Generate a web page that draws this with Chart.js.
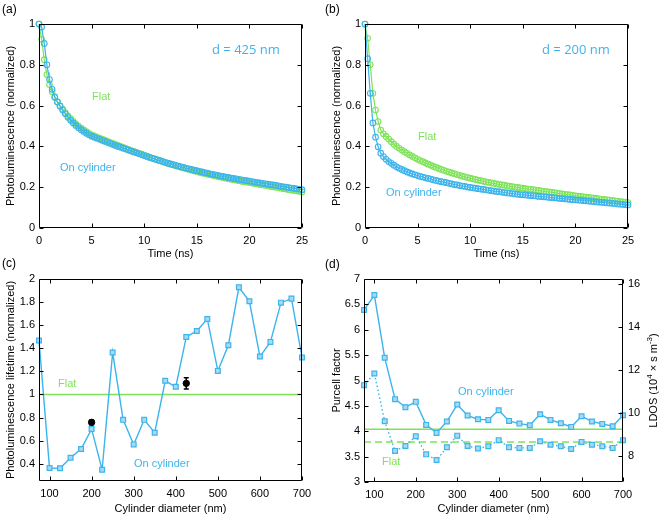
<!DOCTYPE html>
<html>
<head>
<meta charset="utf-8">
<script src="https://cdn.jsdelivr.net/npm/chart.js@4.4.1/dist/chart.umd.min.js"></script>
<style>
  body { margin: 0; background: #fff; width: 661px; height: 516px; position: relative; overflow: hidden; }
  canvas { position: absolute; }
  .tag { position: absolute; font: 12px "Liberation Sans", Arial, sans-serif; line-height: 12px; color: #000; }
</style>
</head>
<body>
<canvas id="pa" width="330" height="260" style="left:0;top:0"></canvas>
<canvas id="pb" width="331" height="260" style="left:330px;top:0"></canvas>
<canvas id="pc" width="330" height="256" style="left:0;top:260px"></canvas>
<canvas id="pd" width="331" height="256" style="left:330px;top:260px"></canvas>
<div class="tag" style="left:2px;top:3px">(a)</div>
<div class="tag" style="left:325px;top:3px">(b)</div>
<div class="tag" style="left:2px;top:257px">(c)</div>
<div class="tag" style="left:325px;top:258px">(d)</div>
<script>
// ---- data ----
// time grid of the decay traces, one sample every 0.25 ns
const timeNs = Array.from({length: 101}, (_, i) => i * 0.25);

// (a) d = 425 nm
const flat425 = [1.000,0.925,0.825,0.752,0.703,0.668,0.640,0.618,0.600,0.583,0.566,0.550,0.536,0.523,0.511,0.500,0.490,0.481,0.472,0.464,0.457,
  0.452,0.446,0.441,0.436,0.431,0.425,0.420,0.415,0.410,0.405,0.400,0.395,0.390,0.385,0.380,0.376,0.371,0.366,0.362,0.357,
  0.352,0.348,0.343,0.339,0.334,0.330,0.326,0.321,0.317,0.313,0.309,0.305,0.302,0.298,0.294,0.291,0.287,0.283,0.280,0.277,
  0.273,0.270,0.267,0.264,0.261,0.258,0.255,0.253,0.250,0.247,0.244,0.242,0.239,0.237,0.234,0.232,0.229,0.227,0.225,0.223,
  0.220,0.218,0.216,0.213,0.211,0.209,0.207,0.204,0.202,0.200,0.198,0.195,0.193,0.191,0.188,0.186,0.184,0.182,0.179,0.177];
const cyl425 = [1.000,0.985,0.905,0.800,0.728,0.680,0.643,0.618,0.597,0.578,0.560,0.543,0.528,0.515,0.503,0.492,0.482,0.473,0.465,0.457,0.450,
  0.445,0.440,0.435,0.430,0.425,0.420,0.415,0.410,0.405,0.400,0.396,0.391,0.387,0.382,0.378,0.373,0.369,0.364,0.360,0.355,
  0.351,0.346,0.342,0.338,0.334,0.330,0.326,0.322,0.318,0.314,0.311,0.307,0.304,0.300,0.297,0.293,0.290,0.287,0.284,0.281,
  0.278,0.275,0.272,0.269,0.266,0.263,0.261,0.258,0.255,0.253,0.250,0.248,0.245,0.243,0.241,0.238,0.236,0.234,0.232,0.230,
  0.228,0.225,0.223,0.221,0.219,0.217,0.215,0.213,0.211,0.209,0.207,0.204,0.202,0.200,0.198,0.196,0.194,0.192,0.190,0.188];

// (b) d = 200 nm
const flat200 = [1.000,0.930,0.800,0.660,0.578,0.522,0.480,0.462,0.449,0.436,0.423,0.411,0.400,0.391,0.382,0.374,0.366,0.358,0.351,0.344,0.337,
  0.331,0.325,0.319,0.313,0.308,0.302,0.297,0.292,0.287,0.283,0.278,0.274,0.270,0.266,0.262,0.258,0.254,0.251,0.247,0.244,
  0.241,0.238,0.235,0.232,0.229,0.226,0.224,0.221,0.219,0.216,0.214,0.212,0.210,0.207,0.205,0.203,0.201,0.199,0.197,0.195,
  0.193,0.191,0.190,0.188,0.186,0.184,0.182,0.180,0.178,0.177,0.175,0.173,0.171,0.169,0.167,0.165,0.164,0.162,0.160,0.158,
  0.156,0.155,0.153,0.151,0.150,0.148,0.146,0.145,0.143,0.141,0.140,0.138,0.137,0.135,0.133,0.132,0.130,0.128,0.127,0.125];
const cyl200 = [1.000,0.830,0.660,0.515,0.445,0.398,0.367,0.350,0.337,0.326,0.317,0.308,0.300,0.293,0.287,0.281,0.275,0.270,0.265,0.261,0.257,
  0.253,0.250,0.246,0.243,0.240,0.236,0.233,0.230,0.227,0.225,0.222,0.219,0.216,0.213,0.211,0.208,0.206,0.204,0.201,0.199,
  0.197,0.195,0.193,0.191,0.189,0.187,0.185,0.183,0.181,0.179,0.178,0.176,0.174,0.172,0.171,0.169,0.167,0.166,0.164,0.163,
  0.162,0.160,0.159,0.158,0.157,0.155,0.154,0.153,0.152,0.150,0.149,0.148,0.147,0.145,0.144,0.143,0.142,0.140,0.139,0.138,
  0.137,0.136,0.134,0.133,0.132,0.131,0.130,0.128,0.127,0.126,0.125,0.123,0.122,0.121,0.120,0.118,0.117,0.116,0.114,0.113];

// (c) and (d) vs cylinder diameter
const diameters = [75,100,125,150,175,200,225,250,275,300,325,350,375,400,425,450,475,500,525,550,575,600,625,650,675,700];
const lifetimeCyl = [1.467,0.363,0.360,0.452,0.527,0.700,0.348,1.363,0.780,0.567,0.780,0.668,1.118,1.066,1.498,1.550,1.654,1.204,1.426,1.928,1.807,1.328,1.455,1.795,1.830,1.320];
const lifetimeFlat = 1.0;
const measuredD = [200, 425];
const measuredLife = [0.758, 1.096];
const measuredErr = [0.02, 0.048];

const purcellCyl = [6.388,6.684,5.447,4.632,4.474,4.579,4.125,3.967,4.191,4.526,4.309,4.237,4.224,4.414,4.204,4.151,4.118,4.336,4.224,4.158,4.086,4.296,4.191,4.145,4.099,4.316];
const ldosCyl = [11.31,11.85,9.63,8.25,8.48,8.93,8.09,7.83,8.42,8.96,8.48,8.36,8.47,8.75,8.42,8.39,8.39,8.70,8.54,8.47,8.34,8.67,8.54,8.47,8.39,8.75];
const purcellFlat = 4.04;
const ldosFlat = 8.67;

// tick labels
const timeTicks = [0, 5, 10, 15, 20, 25];
const plTicks = [0, 0.2, 0.4, 0.6, 0.8, 1];
const diamTicks = [100, 200, 300, 400, 500, 600, 700];
const lifeTicks = [0.4, 0.6, 0.8, 1, 1.2, 1.4, 1.6, 1.8, 2];
const purcellTicks = [3, 3.5, 4, 4.5, 5, 5.5, 6, 6.5, 7];
const ldosTicks = [8, 10, 12, 14, 16];

// ---- styling ----
const BLUE = '#3cb4ec';
const GREEN = '#7fe35a';
const SQFILL = '#a6daf4';
const FAM = '"Liberation Sans", Arial, sans-serif';

function axis(min, max, vals, title, o) {
  const vertical = o.pos === 'left' || o.pos === 'right';
  return {
    type: 'linear', position: o.pos, min: min, max: max,
    grid: {display: false, drawTicks: false},
    border: {display: false},
    afterBuildTicks: s => { s.ticks = vals.map(v => ({value: v})); },
    afterFit: s => { if (vertical) s.width = o.size; else s.height = o.size; },
    ticks: {color: '#000', font: {family: FAM, size: 11}, autoSkip: false, maxRotation: 0,
            padding: o.lpad, callback: v => String(v)},
    title: {display: !!title, text: title, color: '#000',
            font: {family: FAM, size: 11, lineHeight: o.tlh || 1.2},
            padding: {top: o.tpad, bottom: o.tpad}}
  };
}

const boxTicks = {
  id: 'boxTicks',
  afterDatasetsDraw(chart) {
    const {ctx, chartArea: a, scales} = chart;
    const L = 4;
    const l = Math.round(a.left) + 0.5, r = Math.round(a.right) - 0.5;
    const t = Math.round(a.top) + 0.5, b = Math.round(a.bottom) - 0.5;
    ctx.save();
    ctx.strokeStyle = '#000';
    ctx.lineWidth = 1;
    ctx.beginPath();
    scales.x.ticks.forEach(k => {
      const p = Math.round(scales.x.getPixelForValue(k.value)) + 0.5;
      ctx.moveTo(p, b); ctx.lineTo(p, b - L);
      ctx.moveTo(p, t); ctx.lineTo(p, t + L);
    });
    const y2 = scales.y2;
    scales.y.ticks.forEach(k => {
      const p = Math.round(scales.y.getPixelForValue(k.value)) + 0.5;
      ctx.moveTo(l, p); ctx.lineTo(l + L, p);
      if (!y2) { ctx.moveTo(r, p); ctx.lineTo(r - L, p); }
    });
    if (y2) y2.ticks.forEach(k => {
      const p = Math.round(y2.getPixelForValue(k.value)) + 0.5;
      ctx.moveTo(r, p); ctx.lineTo(r - L, p);
    });
    ctx.rect(l, t, r - l, b - t);
    ctx.stroke();
    ctx.restore();
  }
};

function notes(items) {
  return {
    id: 'notes',
    afterDraw(chart) {
      const ctx = chart.ctx;
      ctx.save();
      ctx.textBaseline = 'middle';
      ctx.textAlign = 'left';
      items.forEach(n => {
        ctx.fillStyle = n.color;
        ctx.font = n.font;
        ctx.fillText(n.text, n.x, n.y);
      });
      ctx.restore();
    }
  };
}

function decay(vals, color) {
  return {
    data: timeNs.map((t, i) => ({x: t, y: vals[i]})),
    showLine: true, borderColor: color, borderWidth: 1.2,
    pointStyle: 'circle', pointRadius: 2.8, pointBorderWidth: 1.1,
    pointBorderColor: color, pointBackgroundColor: 'rgba(0,0,0,0)', clip: false
  };
}

const baseOpts = {
  responsive: false, animation: false, events: [],
  plugins: {legend: {display: false}, tooltip: {enabled: false}}
};

const ANN = '13px "Open Sans", sans-serif';
const LBL = '11px ' + FAM;

function decayChart(id, flat, cyl, dText, yW, rightPad, yTitlePad, pos) {
  new Chart(document.getElementById(id), {
    type: 'scatter',
    data: {datasets: [decay(cyl, BLUE), decay(flat, GREEN)]},
    options: Object.assign({}, baseOpts, {
      layout: {padding: {left: 0, top: 24, right: rightPad, bottom: 0}},
      scales: {
        x: axis(0, 25, timeTicks, 'Time (ns)', {pos: 'bottom', size: 32, lpad: 6, tpad: 0.5, tlh: 1}),
        y: axis(0, 1, plTicks, 'Photoluminescence (normalized)', {pos: 'left', size: yW, lpad: 4, tpad: yTitlePad})
      }
    }),
    plugins: [boxTicks, notes([
      {text: dText, x: 212, y: 50, color: BLUE, font: ANN},
      {text: 'Flat', x: pos.fx, y: pos.fy, color: GREEN, font: LBL},
      {text: 'On cylinder', x: pos.cx, y: pos.cy, color: BLUE, font: LBL}
    ])]
  });
}

decayChart('pa', flat425, cyl425, 'd = 425 nm', 39, 28, 4, {fx: 92, fy: 97, cx: 60, cy: 168});
decayChart('pb', flat200, cyl200, 'd = 200 nm', 35, 33, 0, {fx: 88, fy: 137, cx: 56, cy: 193});

// (c) lifetime
const errBars = {
  id: 'errBars',
  afterDatasetsDraw(chart) {
    const {ctx, scales: {x, y}} = chart;
    ctx.save();
    ctx.strokeStyle = '#000';
    ctx.lineWidth = 1.5;
    ctx.beginPath();
    measuredD.forEach((d, i) => {
      const px = x.getPixelForValue(d);
      const top = y.getPixelForValue(measuredLife[i] + measuredErr[i]);
      const bot = y.getPixelForValue(measuredLife[i] - measuredErr[i]);
      ctx.moveTo(px, top); ctx.lineTo(px, bot);
      ctx.moveTo(px - 2.5, top); ctx.lineTo(px + 2.5, top);
      ctx.moveTo(px - 2.5, bot); ctx.lineTo(px + 2.5, bot);
    });
    ctx.stroke();
    ctx.restore();
  }
};

function squares(vals, axisId, dash) {
  return {
    data: diameters.map((d, i) => ({x: d, y: vals[i]})), yAxisID: axisId,
    showLine: true, borderColor: BLUE, borderWidth: 1.4, borderDash: dash,
    pointStyle: 'rect', pointRadius: 3.4, pointBorderWidth: 1.2,
    pointBorderColor: BLUE, pointBackgroundColor: SQFILL, clip: false
  };
}

function flatLine(v, axisId, dash) {
  return {
    data: [{x: diameters[0], y: v}, {x: diameters[diameters.length - 1], y: v}], yAxisID: axisId,
    showLine: true, borderColor: GREEN, borderWidth: 1.5, borderDash: dash, pointRadius: 0, clip: false
  };
}

new Chart(document.getElementById('pc'), {
  type: 'scatter',
  data: {datasets: [
    {data: measuredD.map((d, i) => ({x: d, y: measuredLife[i]})), pointRadius: 3.2,
     pointBackgroundColor: '#000', pointBorderColor: '#000', showLine: false, clip: false},
    squares(lifetimeCyl, 'y', []),
    flatLine(lifetimeFlat, 'y', [])
  ]},
  options: Object.assign({}, baseOpts, {
    layout: {padding: {left: 0, top: 19, right: 28, bottom: 0}},
    scales: {
      x: axis(75, 700, diamTicks, 'Cylinder diameter (nm)', {pos: 'bottom', size: 35, lpad: 6, tpad: 1.5, tlh: 1}),
      y: axis(0.25, 2, lifeTicks, 'Photoluminescence lifetime (normalized)', {pos: 'left', size: 39, lpad: 4, tpad: 4})
    }
  }),
  plugins: [boxTicks, errBars, notes([
    {text: 'Flat', x: 58, y: 124, color: GREEN, font: LBL},
    {text: 'On cylinder', x: 134, y: 204, color: BLUE, font: LBL}
  ])]
});

// (d) Purcell factor and LDOS
// right-hand title reads bottom to top and carries superscripts
const ldosTitle = {
  id: 'ldosTitle',
  afterDraw(chart) {
    const {ctx, chartArea: a} = chart;
    const parts = [['LDOS (10', false], ['4', true], [' \u00d7 s m', false], ['-3', true], [')', false]];
    const big = '11px ' + FAM, small = '8px ' + FAM;
    ctx.save();
    let w = 0;
    parts.forEach(p => { ctx.font = p[1] ? small : big; w += ctx.measureText(p[0]).width; });
    ctx.translate(chart.width - 7, (a.top + a.bottom) / 2);
    ctx.rotate(-Math.PI / 2);
    ctx.textBaseline = 'middle';
    ctx.textAlign = 'left';
    ctx.fillStyle = '#000';
    let x = -w / 2;
    parts.forEach(p => {
      ctx.font = p[1] ? small : big;
      ctx.fillText(p[0], x, p[1] ? -4 : 0);
      x += ctx.measureText(p[0]).width;
    });
    ctx.restore();
  }
};

new Chart(document.getElementById('pd'), {
  type: 'scatter',
  data: {datasets: [
    squares(purcellCyl, 'y', []),
    squares(ldosCyl, 'y2', [1.5, 2.5]),
    flatLine(purcellFlat, 'y', []),
    flatLine(ldosFlat, 'y2', [7, 4])
  ]},
  options: Object.assign({}, baseOpts, {
    layout: {padding: {left: 0, top: 19, right: 0, bottom: 0}},
    scales: {
      x: axis(75, 700, diamTicks, 'Cylinder diameter (nm)', {pos: 'bottom', size: 34, lpad: 6, tpad: 2, tlh: 1}),
      y: axis(3, 7, purcellTicks, 'Purcell factor', {pos: 'left', size: 34, lpad: 4, tpad: 0}),
      y2: axis(6.804, 16.249, ldosTicks, '', {pos: 'right', size: 38, lpad: 5, tpad: 0})
    }
  }),
  plugins: [boxTicks, ldosTitle, notes([
    {text: 'On cylinder', x: 128, y: 132, color: BLUE, font: LBL},
    {text: 'Flat', x: 52, y: 202, color: GREEN, font: LBL}
  ])]
});
</script>
</body>
</html>
